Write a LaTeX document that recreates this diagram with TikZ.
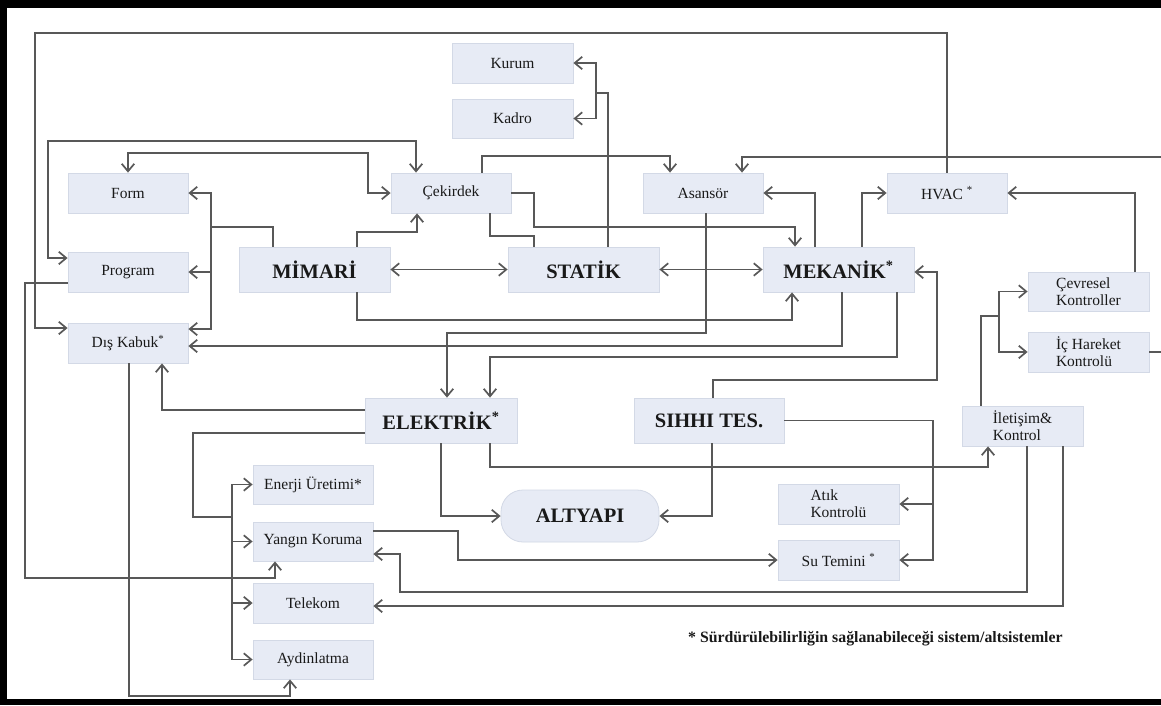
\documentclass[tikz,border=0pt]{standalone}
\usepackage{fontspec}
\setmainfont{Liberation Serif}
\usetikzlibrary{arrows.meta}
\definecolor{boxfill}{RGB}{231,235,245}
\definecolor{boxline}{RGB}{211,217,230}
\definecolor{ln}{RGB}{88,88,88}
\definecolor{txt}{RGB}{25,25,25}
\tikzset{
  >={Straight Barb[length=7.5pt,width=12.5pt]},
  box/.style={draw=boxline, fill=boxfill, line width=0.8pt, minimum width=121pt, minimum height=40pt,
    inner sep=0pt, text=txt, font=\fontsize{15.5}{17}\selectfont, align=left},
  bigbox/.style={box, minimum width=151pt, minimum height=45pt, font=\fontsize{20.5}{22}\selectfont\bfseries},
  conn/.style={draw=ln, line width=1.7pt},
  arr/.style={conn, ->},
  dbl/.style={conn, <->},
}
\begin{document}
\begin{tikzpicture}[x=1pt,y=-1pt]
\useasboundingbox (0,0) rectangle (1161,705);
\fill[white] (0,0) rectangle (1161,705);
% frame
\fill[black] (0,0) rectangle (1161,8);
\fill[black] (0,0) rectangle (7,705);
\fill[black] (0,699) rectangle (1161,705);

% nodes
\node[box] (kurum) at (512.5,63) {Kurum};
\node[box, minimum height=39pt] (kadro) at (512.5,118.5) {Kadro};
\node[box, minimum width=120pt] (cek) at (451,193) {Çekirdek};
\node[box, minimum width=120pt] (asan) at (703,193) {Asansör};
\node[box, minimum width=120pt] (hvac) at (947,193) {HVAC \textsuperscript{*}};
\node[box, minimum width=120pt] (form) at (128,193) {Form};
\node[box, minimum width=120pt] (prog) at (128,272) {Program};
\node[box, minimum width=120pt] (dis) at (128,343) {Dış Kabuk\textsuperscript{*}};
\node[bigbox] (mim) at (314.5,269.5) {MİMARİ};
\node[bigbox] (stat) at (583.5,269.5) {STATİK};
\node[bigbox] (mek) at (838.5,269.5) {MEKANİK\textsuperscript{*}};
\node[box, minimum height=39pt] (cev) at (1088.5,291.5) {Çevresel\\Kontroller};
\node[box] (ich) at (1088.5,352) {İç Hareket\\Kontrolü};
\node[box] (ilet) at (1022.5,426) {İletişim\&\\Kontrol};
\node[bigbox, minimum width=152pt] (elek) at (441,420.5) {ELEKTRİK\textsuperscript{*}};
\node[bigbox, minimum width=150pt] (sih) at (709,420.5) {SIHHI TES.};
\node[bigbox, minimum width=158pt, minimum height=52pt, rounded corners=22pt] (alt) at (580,516) {ALTYAPI};
\node[box, minimum width=120pt, minimum height=39pt] (ener) at (313,484.5) {Enerji Üretimi*};
\node[box, minimum width=120pt, minimum height=39pt] (yang) at (313,541.5) {Yangın Koruma};
\node[box, minimum width=120pt] (tel) at (313,603) {Telekom};
\node[box, minimum width=120pt, minimum height=39pt] (ayd) at (313,659.5) {Aydinlatma};
\node[box] (atik) at (838.5,504) {Atık\\Kontrolü};
\node[box] (su) at (838.5,560) {Su Temini \textsuperscript{*}};
\node[anchor=west, inner sep=0pt, text=txt, font=\fontsize{15.8}{17}\selectfont\bfseries] (note) at (688,639)
  {* Sürdürülebilirliğin sağlanabileceği sistem/altsistemler};

% off-picture ends on the right
\coordinate (offA) at (1175,157);
\coordinate (offB) at (1175,352);

% connectors
\draw[arr] (hvac.north) |- (35,33) |- (dis.west |- 0,328);
\draw[dbl] (prog.west |- 0,258) -| (48,141) -| (cek.north -| 416,0);
\draw[dbl] (form.north) |- (368,153) |- (cek.west);
\draw[arr] (mim.north -| 273,0) |- (211,227) |- (form.east);
\draw[arr] (211,227) |- (dis.east |- 0,329);
\draw[arr] (211,272) -- (prog.east);
\draw[dbl] (mim) -- (stat);
\draw[dbl] (stat) -- (mek);
\draw[arr] (mim.north -| 357,0) |- (417,232) -- (cek.south -| 417,0);
\draw[arr] (mim.south -| 357,0) |- (792,320) -- (mek.south -| 792,0);
\draw[arr] (cek.east) -| (534,227) -| (mek.north -| 795,0);
\draw[conn] (cek.south -| 490,0) |- (534,236) -- (stat.north -| 534,0);
\draw[arr] (cek.north -| 482,0) |- (670,156) -- (asan.north -| 670,0);
\begin{scope}
\clip (0,0) rectangle (1161,705);
\draw[arr] (offA) -| (asan.north -| 742,0);
\draw[conn] (ich.east) -- (offB);
\end{scope}
\draw[arr] (mek.north -| 815,0) |- (asan.east);
\draw[arr] (mek.north -| 862,0) |- (hvac.west);
\draw[arr] (cev.north -| 1135,0) |- (hvac.east);
\draw[arr] (stat.north -| 608,0) |- (596,93) |- (kurum.east);
\draw[arr] (596,93) |- (kadro.east);
\draw[arr] (asan.south -| 706,0) |- (447,333) -- (elek.north -| 447,0);
\draw[arr] (mek.south -| 842,0) |- (dis.east |- 0,346);
\draw[arr] (mek.south -| 897,0) |- (490,357) -- (elek.north -| 490,0);
\draw[arr] (sih.north -| 713,0) |- (937,380) |- (mek.east |- 0,272);
\draw[arr] (elek.west |- 0,410) -| (dis.south -| 162,0);
\draw[conn] (elek.west |- 0,433) -| (193,517) -- (232,517);
\draw[arr] (232,517) |- (ener.west);
\draw[arr] (232,517) |- (ayd.west);
\draw[arr] (232,541.5) -- (yang.west);
\draw[arr] (232,603) -- (tel.west);
\draw[arr] (dis.south -| 129,0) |- (290,696) -- (ayd.south -| 290,0);
\draw[arr] (prog.west |- 0,283) -| (25,578) -| (yang.south -| 275,0);
\draw[arr] (elek.south -| 441,0) |- (alt.west);
\draw[arr] (sih.south -| 712,0) |- (alt.east);
\draw[arr] (elek.south -| 490,0) |- (988,467) -- (ilet.south -| 988,0);
\draw[arr] (sih.east) -| (933,560) -- (su.east);
\draw[arr] (933,504) -- (atik.east);
\draw[arr] (yang.east |- 0,531) -| (458,560) -- (su.west);
\draw[arr] (ilet.south -| 1027,0) |- (400,592) |- (yang.east |- 0,554);
\draw[arr] (ilet.south -| 1063,0) |- (tel.east |- 0,606);
\draw[arr] (ilet.north -| 981,0) |- (999,316) |- (cev.west);
\draw[arr] (999,316) |- (ich.west);
\end{tikzpicture}
\end{document}
